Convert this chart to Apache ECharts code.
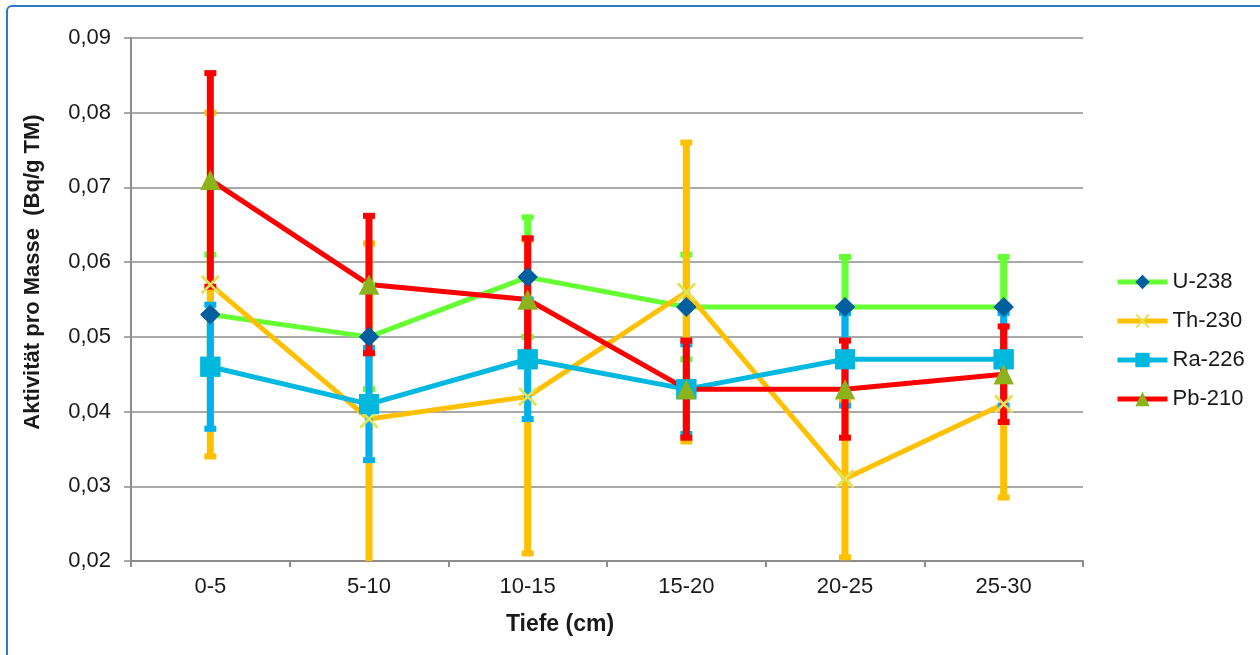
<!DOCTYPE html>
<html>
<head>
<meta charset="utf-8">
<script src="https://cdn.jsdelivr.net/npm/echarts@6/dist/echarts.min.js"></script>
<style>
  html, body { margin: 0; padding: 0; background: #fff; }
  #chart { width: 1260px; height: 655px; }
</style>
</head>
<body>
<div id="chart"></div>
<script>
const categories = ['0-5', '5-10', '10-15', '15-20', '20-25', '25-30']
const u238 = [0.053, 0.050, 0.058, 0.054, 0.054, 0.054]
const u238Err = [0.008, 0.007, 0.008, 0.007, 0.0067, 0.0067]
const th230 = [0.057, 0.039, 0.042, 0.056, 0.031, 0.041]
const th230Err = [0.023, 0.0235, 0.021, 0.020, 0.0105, 0.0125]
const ra226 = [0.046, 0.041, 0.047, 0.043, 0.047, 0.047]
const ra226Err = [0.0083, 0.0075, 0.008, 0.006, 0.0062, 0.0062]
const pb210 = [0.071, 0.057, 0.055, 0.043, 0.043, 0.045]
const pb210Err = [0.0143, 0.0092, 0.0082, 0.0065, 0.0065, 0.0064]

const yMin = 0.02
const yMax = 0.09

const xMark = 'path://M0,1L1,0L10,9L9,10Z M9,0L10,1L1,10L0,9Z'
const font = 'Liberation Sans, Arial'

const chart = echarts.init(document.getElementById('chart'))

// error bars as custom series
function errorSeries(name, values, errs, color) {
  return {
    name: name + '-err',
    type: 'custom',
    z: 3,
    silent: true,
    data: values.map((v, i) => [i, v, errs[i]]),
    renderItem: function(params, api) {
      const i = api.value(0)
      const v = api.value(1)
      const e = api.value(2)
      const hi = Math.min(v + e, yMax)
      const lo = Math.max(v - e, yMin)
      const top = api.coord([i, hi])
      const bot = api.coord([i, lo])
      const children = [{
        type: 'line',
        shape: { x1: top[0], y1: top[1], x2: bot[0], y2: bot[1] },
        style: { stroke: color, lineWidth: 7 }
      }]
      if (v + e <= yMax) {
        children.push({ type: 'rect', shape: { x: top[0] - 6, y: top[1] - 3, width: 12, height: 6 }, style: { fill: color } })
      }
      if (v - e >= yMin) {
        children.push({ type: 'rect', shape: { x: bot[0] - 6, y: bot[1] - 3, width: 12, height: 6 }, style: { fill: color } })
      }
      return { type: 'group', children: children }
    }
  }
}

function lineSeries(name, values, color, symbol, size, markColor) {
  return {
    name: name,
    type: 'line',
    z: 2,
    data: values,
    symbol: symbol,
    symbolSize: size,
    showAllSymbol: true,
    lineStyle: { color: color, width: 5 },
    itemStyle: { color: markColor },
    emphasis: { disabled: true }
  }
}

function markerSeries(name, values, symbol, size, markColor) {
  return {
    name: name + '-mark',
    type: 'scatter',
    z: 4,
    silent: true,
    data: values,
    symbol: symbol,
    symbolSize: size,
    itemStyle: { color: markColor, opacity: 1 }
  }
}

const option = {
  animation: false,
  grid: { left: 131, top: 38, right: 177, bottom: 94 },
  legend: {
    data: ['U-238', 'Th-230', 'Ra-226', 'Pb-210'],
    orient: 'vertical',
    left: 1110,
    top: 266,
    itemWidth: 50,
    itemHeight: 18,
    itemGap: 17,
    lineStyle: { width: 5 },
    textStyle: { fontFamily: font, fontSize: 22, color: '#1a1a1a' }
  },
  xAxis: {
    type: 'category',
    data: categories,
    boundaryGap: true,
    axisLine: { lineStyle: { color: '#8c8c8c', width: 2 } },
    axisTick: { show: true, length: 6, lineStyle: { color: '#8c8c8c', width: 2 } },
    axisLabel: { margin: 15, fontFamily: font, fontSize: 22, color: '#1a1a1a' },
    splitLine: { show: false }
  },
  yAxis: {
    type: 'value',
    min: yMin,
    max: yMax,
    interval: 0.01,
    axisLine: { show: true, lineStyle: { color: '#8c8c8c', width: 2 } },
    axisTick: { show: true, length: 7, lineStyle: { color: '#8c8c8c', width: 1.5 } },
    axisLabel: {
      margin: 20,
      fontFamily: font,
      fontSize: 22,
      color: '#1a1a1a',
      formatter: v => v.toFixed(2).replace('.', ',')
    },
    splitLine: { lineStyle: { color: '#8c8c8c', width: 1.5 } }
  },
  graphic: [
    {
      type: 'rect',
      shape: { x: 7, y: 6, width: 1400, height: 900, r: 5 },
      style: { fill: 'none', stroke: '#2a7ac8', lineWidth: 2 },
      silent: true
    },
    {
      type: 'text',
      x: 33,
      y: 272,
      rotation: Math.PI / 2,
      style: {
        text: 'Aktivität pro Masse  (Bq/g TM)',
        fontFamily: font,
        fontWeight: 'bold',
        fontSize: 22,
        fill: '#1a1a1a',
        align: 'center',
        verticalAlign: 'middle'
      }
    },
    {
      type: 'text',
      x: 560,
      y: 625,
      style: {
        text: 'Tiefe (cm)',
        fontFamily: font,
        fontWeight: 'bold',
        fontSize: 23,
        fill: '#1a1a1a',
        align: 'center',
        verticalAlign: 'middle'
      }
    }
  ],
  series: [
    lineSeries('U-238', u238, '#66ff33', 'diamond', 20, '#005f9e'),
    lineSeries('Th-230', th230, '#ffc000', xMark, 19, '#e3e35a'),
    lineSeries('Ra-226', ra226, '#00b8e0', 'rect', 20, '#00b8de'),
    lineSeries('Pb-210', pb210, '#ff0000', 'triangle', 20, '#8db31c'),
    errorSeries('U-238', u238, u238Err, '#66ff33'),
    errorSeries('Th-230', th230, th230Err, '#ffc000'),
    errorSeries('Ra-226', ra226, ra226Err, '#00b0f0'),
    errorSeries('Pb-210', pb210, pb210Err, '#ff0000'),
    markerSeries('U-238', u238, 'diamond', 20, '#005f9e'),
    markerSeries('Th-230', th230, xMark, 19, '#e3e35a'),
    markerSeries('Ra-226', ra226, 'rect', 20, '#00b8de'),
    markerSeries('Pb-210', pb210, 'triangle', 20, '#8db31c')
  ]
}

chart.setOption(option)
</script>
</body>
</html>
